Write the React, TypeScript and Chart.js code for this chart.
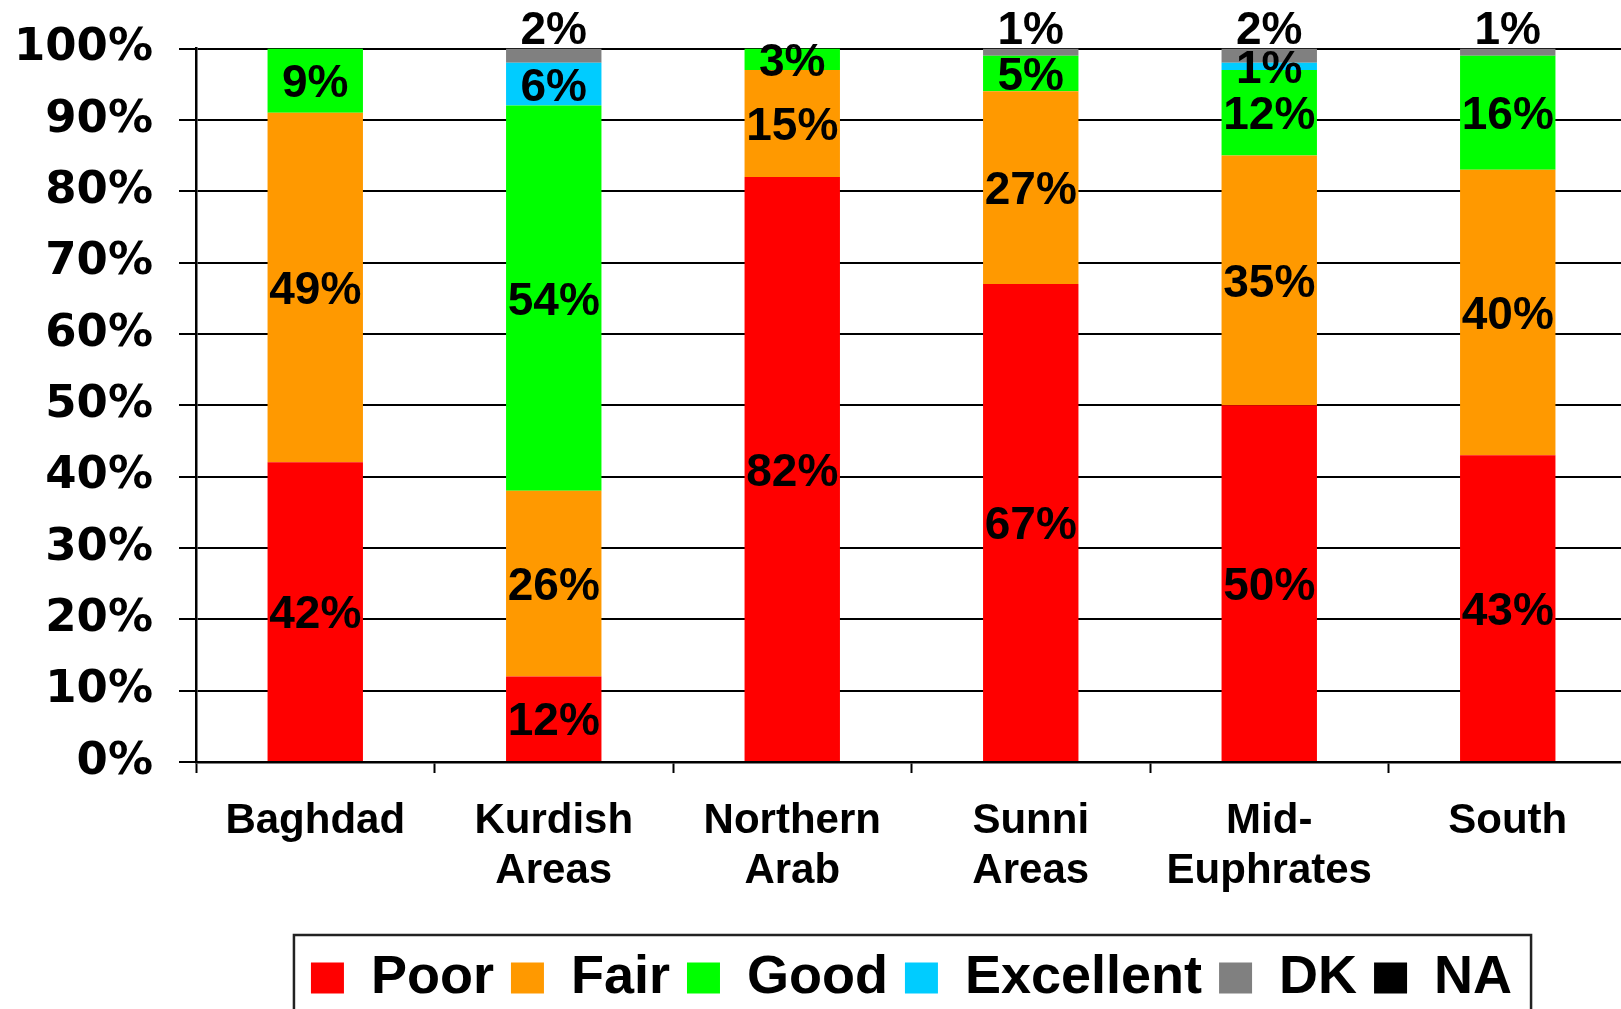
import React, { useEffect, useRef } from "react";
import { Chart, registerables } from "chart.js";

Chart.register(...registerables);

const FONT = "'Liberation Sans', Arial, Helvetica, sans-serif";
const TICK_FONT = "'DejaVu Sans', 'Liberation Sans', Arial, sans-serif";

const categories: string[][] = [
  ["Baghdad"],
  ["Kurdish", "Areas"],
  ["Northern", "Arab"],
  ["Sunni", "Areas"],
  ["Mid-", "Euphrates"],
  ["South"],
];
const seriesNames = ["Poor", "Fair", "Good", "Excellent", "DK", "NA"];
const poor = [42, 12, 82, 67, 50, 43];
const fair = [49, 26, 15, 27, 35, 40];
const good = [9, 54, 3, 5, 12, 16];
const excellent = [0, 6, 0, 0, 1, 0];
const dk = [0, 2, 0, 1, 2, 1];
const na = [0, 0, 0, 0, 0, 0];
const seriesColors = ["#FF0000", "#FF9900", "#00FF00", "#00CCFF", "#808080", "#000000"];
const yMin = 0;
const yMax = 100;
const yStep = 10;

const segLabelPlugin = {
  id: "segLabels",
  afterDatasetsDraw(chart: any) {
    const ctx = chart.ctx;
    ctx.save();
    ctx.font = `bold 46px ${FONT}`;
    ctx.fillStyle = "#000";
    ctx.textAlign = "center";
    chart.data.datasets.forEach((ds: any, i: number) => {
      const meta = chart.getDatasetMeta(i);
      meta.data.forEach((el: any, j: number) => {
        const v = ds.data[j];
        if (!v) return;
        const { x, y, base } = el.getProps(["x", "y", "base"], true);
        if (ds.label === "DK") {
          ctx.textBaseline = "alphabetic";
          ctx.fillText(v + "%", x, y - 5);
        } else {
          ctx.textBaseline = "middle";
          ctx.fillText(v + "%", x, (y + base) / 2 + 4);
        }
      });
    });
    ctx.restore();
  },
};

const legendBorderPlugin = {
  id: "legendBorder",
  afterDraw(chart: any) {
    const lg = chart.legend;
    const hb = lg && lg.legendHitBoxes;
    if (!hb || !hb.length) return;
    const first = hb[0];
    const last = hb[hb.length - 1];
    const ctx = chart.ctx;
    ctx.save();
    ctx.strokeStyle = "#222";
    ctx.lineWidth = 2.5;
    const left = first.left - 17;
    const right = last.left + last.width + 19;
    const top = first.top - 16;
    ctx.strokeRect(left, top, right - left, chart.height + 20 - top);
    ctx.restore();
  },
};

export default function App() {
  const ref = useRef<HTMLCanvasElement | null>(null);

  useEffect(() => {
    if (!ref.current) return;
    const series = [poor, fair, good, excellent, dk, na];
    const chart = new Chart(ref.current, {
      type: "bar",
      data: {
        labels: categories,
        datasets: series.map((d, i) => ({
          label: seriesNames[i],
          data: d,
          backgroundColor: seriesColors[i],
          borderWidth: 0,
          barPercentage: 0.4,
          categoryPercentage: 1.0,
        })),
      },
      options: {
        responsive: false,
        animation: false,
        devicePixelRatio: 1,
        layout: { padding: { top: 48.5, right: 3, bottom: 0, left: 0 } },
        plugins: {
          legend: {
            position: "bottom",
            fullSize: false,
            labels: {
              boxWidth: 33,
              boxHeight: 31,
              padding: 17,
              color: "#000",
              font: { family: FONT, size: 54, weight: "bold" },
            },
          },
          tooltip: { enabled: false },
        },
        scales: {
          x: {
            stacked: true,
            offset: true,
            grid: {
              display: true,
              offset: true,
              drawOnChartArea: false,
              drawTicks: true,
              tickLength: 11,
              tickColor: "#000",
              tickWidth: 2,
            },
            border: { display: true, color: "#000", width: 2.5 },
            ticks: {
              color: "#000",
              font: { family: FONT, size: 42, weight: "bold", lineHeight: 1.2 },
              padding: 23,
              maxRotation: 0,
              autoSkip: false,
            },
            afterFit: (s: any) => {
              s.height = 172;
              s.paddingLeft = 0;
              s.paddingRight = 0;
            },
          },
          y: {
            stacked: true,
            min: yMin,
            max: yMax,
            ticks: {
              stepSize: yStep,
              callback: (v: any) => v + "%",
              color: "#000",
              font: { family: TICK_FONT, size: 45, weight: "bold" },
              padding: 26,
            },
            grid: {
              color: "#000",
              lineWidth: 2,
              drawTicks: true,
              tickLength: 17,
              tickColor: "#000",
              tickWidth: 2,
            },
            border: { display: true, color: "#000", width: 2.5 },
            afterFit: (s: any) => {
              s.width = 196;
              s.paddingTop = 0;
              s.paddingBottom = 0;
            },
          },
        },
      } as any,
      plugins: [segLabelPlugin, legendBorderPlugin],
    });
    return () => chart.destroy();
  }, []);

  return (
    <div
      style={{
        position: "fixed",
        left: 0,
        top: 0,
        width: 1621,
        height: 1009,
        overflow: "hidden",
        background: "#fff",
      }}
    >
      <canvas ref={ref} width={1630} height={1015} style={{ display: "block", width: 1630, height: 1015 }} />
    </div>
  );
}
